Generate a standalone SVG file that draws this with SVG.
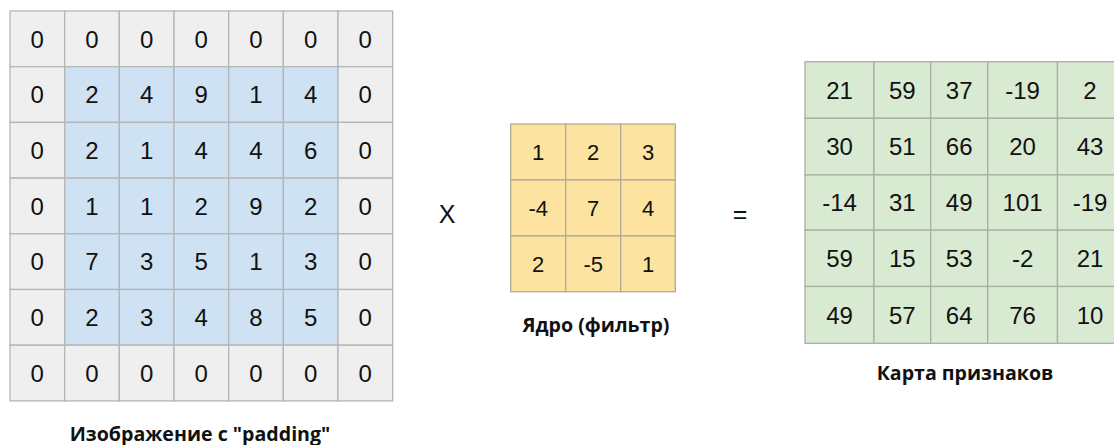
<svg xmlns="http://www.w3.org/2000/svg" width="1114" height="445" viewBox="0 0 1114 445">
<style>
.g{fill:#efefef;stroke:#b5b5b5;stroke-width:1.3}
.b{fill:#cfe2f3;stroke:#b5b5b5;stroke-width:1.3}
.y{fill:#fde3a0;stroke:#b3ab96;stroke-width:1.3}
.m{fill:#d9ead3;stroke:#a6b0a3;stroke-width:1.3}
.n{font-family:"Liberation Sans",Arial,sans-serif;font-size:24px;fill:#111;text-anchor:middle}
.k{font-family:"Liberation Sans",Arial,sans-serif;font-size:22px;fill:#111;text-anchor:middle}
.op{font-family:"Liberation Sans",Arial,sans-serif;font-size:25px;fill:#111;text-anchor:middle}
.lbl{font-family:"Open Sans","Noto Sans",sans-serif;font-weight:bold;font-size:19.6px;fill:#111;text-anchor:middle}
</style>
<rect width="1114" height="445" fill="#ffffff"/>
<g id="input-grid">
<g>
<rect class="g" x="10" y="11" width="54.67" height="55.7"/><rect class="g" x="64.67" y="11" width="54.67" height="55.7"/><rect class="g" x="119.33" y="11" width="54.67" height="55.7"/><rect class="g" x="174" y="11" width="54.67" height="55.7"/><rect class="g" x="228.67" y="11" width="54.67" height="55.7"/><rect class="g" x="283.33" y="11" width="54.67" height="55.7"/><rect class="g" x="338" y="11" width="54.67" height="55.7"/>
<rect class="g" x="10" y="66.7" width="54.67" height="55.7"/><rect class="b" x="64.67" y="66.7" width="54.67" height="55.7"/><rect class="b" x="119.33" y="66.7" width="54.67" height="55.7"/><rect class="b" x="174" y="66.7" width="54.67" height="55.7"/><rect class="b" x="228.67" y="66.7" width="54.67" height="55.7"/><rect class="b" x="283.33" y="66.7" width="54.67" height="55.7"/><rect class="g" x="338" y="66.7" width="54.67" height="55.7"/>
<rect class="g" x="10" y="122.4" width="54.67" height="55.7"/><rect class="b" x="64.67" y="122.4" width="54.67" height="55.7"/><rect class="b" x="119.33" y="122.4" width="54.67" height="55.7"/><rect class="b" x="174" y="122.4" width="54.67" height="55.7"/><rect class="b" x="228.67" y="122.4" width="54.67" height="55.7"/><rect class="b" x="283.33" y="122.4" width="54.67" height="55.7"/><rect class="g" x="338" y="122.4" width="54.67" height="55.7"/>
<rect class="g" x="10" y="178.1" width="54.67" height="55.7"/><rect class="b" x="64.67" y="178.1" width="54.67" height="55.7"/><rect class="b" x="119.33" y="178.1" width="54.67" height="55.7"/><rect class="b" x="174" y="178.1" width="54.67" height="55.7"/><rect class="b" x="228.67" y="178.1" width="54.67" height="55.7"/><rect class="b" x="283.33" y="178.1" width="54.67" height="55.7"/><rect class="g" x="338" y="178.1" width="54.67" height="55.7"/>
<rect class="g" x="10" y="233.8" width="54.67" height="55.7"/><rect class="b" x="64.67" y="233.8" width="54.67" height="55.7"/><rect class="b" x="119.33" y="233.8" width="54.67" height="55.7"/><rect class="b" x="174" y="233.8" width="54.67" height="55.7"/><rect class="b" x="228.67" y="233.8" width="54.67" height="55.7"/><rect class="b" x="283.33" y="233.8" width="54.67" height="55.7"/><rect class="g" x="338" y="233.8" width="54.67" height="55.7"/>
<rect class="g" x="10" y="289.5" width="54.67" height="55.7"/><rect class="b" x="64.67" y="289.5" width="54.67" height="55.7"/><rect class="b" x="119.33" y="289.5" width="54.67" height="55.7"/><rect class="b" x="174" y="289.5" width="54.67" height="55.7"/><rect class="b" x="228.67" y="289.5" width="54.67" height="55.7"/><rect class="b" x="283.33" y="289.5" width="54.67" height="55.7"/><rect class="g" x="338" y="289.5" width="54.67" height="55.7"/>
<rect class="g" x="10" y="345.2" width="54.67" height="55.7"/><rect class="g" x="64.67" y="345.2" width="54.67" height="55.7"/><rect class="g" x="119.33" y="345.2" width="54.67" height="55.7"/><rect class="g" x="174" y="345.2" width="54.67" height="55.7"/><rect class="g" x="228.67" y="345.2" width="54.67" height="55.7"/><rect class="g" x="283.33" y="345.2" width="54.67" height="55.7"/><rect class="g" x="338" y="345.2" width="54.67" height="55.7"/>
</g>
<g>
<text class="n" x="37.3" y="47.5">0</text><text class="n" x="92" y="47.5">0</text><text class="n" x="146.7" y="47.5">0</text><text class="n" x="201.3" y="47.5">0</text><text class="n" x="256" y="47.5">0</text><text class="n" x="310.7" y="47.5">0</text><text class="n" x="365.3" y="47.5">0</text>
<text class="n" x="37.3" y="103.2">0</text><text class="n" x="92" y="103.2">2</text><text class="n" x="146.7" y="103.2">4</text><text class="n" x="201.3" y="103.2">9</text><text class="n" x="256" y="103.2">1</text><text class="n" x="310.7" y="103.2">4</text><text class="n" x="365.3" y="103.2">0</text>
<text class="n" x="37.3" y="158.9">0</text><text class="n" x="92" y="158.9">2</text><text class="n" x="146.7" y="158.9">1</text><text class="n" x="201.3" y="158.9">4</text><text class="n" x="256" y="158.9">4</text><text class="n" x="310.7" y="158.9">6</text><text class="n" x="365.3" y="158.9">0</text>
<text class="n" x="37.3" y="214.6">0</text><text class="n" x="92" y="214.6">1</text><text class="n" x="146.7" y="214.6">1</text><text class="n" x="201.3" y="214.6">2</text><text class="n" x="256" y="214.6">9</text><text class="n" x="310.7" y="214.6">2</text><text class="n" x="365.3" y="214.6">0</text>
<text class="n" x="37.3" y="270.3">0</text><text class="n" x="92" y="270.3">7</text><text class="n" x="146.7" y="270.3">3</text><text class="n" x="201.3" y="270.3">5</text><text class="n" x="256" y="270.3">1</text><text class="n" x="310.7" y="270.3">3</text><text class="n" x="365.3" y="270.3">0</text>
<text class="n" x="37.3" y="326">0</text><text class="n" x="92" y="326">2</text><text class="n" x="146.7" y="326">3</text><text class="n" x="201.3" y="326">4</text><text class="n" x="256" y="326">8</text><text class="n" x="310.7" y="326">5</text><text class="n" x="365.3" y="326">0</text>
<text class="n" x="37.3" y="381.7">0</text><text class="n" x="92" y="381.7">0</text><text class="n" x="146.7" y="381.7">0</text><text class="n" x="201.3" y="381.7">0</text><text class="n" x="256" y="381.7">0</text><text class="n" x="310.7" y="381.7">0</text><text class="n" x="365.3" y="381.7">0</text>
</g>
</g>
<g id="label-input"><text class="lbl" x="200" y="441">Изображение с "padding"</text></g>
<g id="op-multiply"><text class="op" x="447" y="223">X</text></g>
<g id="kernel">
<rect class="y" x="510.7" y="124" width="55" height="56"/><rect class="y" x="565.7" y="124" width="55" height="56"/><rect class="y" x="620.7" y="124" width="54.6" height="56"/>
<rect class="y" x="510.7" y="180" width="55" height="56"/><rect class="y" x="565.7" y="180" width="55" height="56"/><rect class="y" x="620.7" y="180" width="54.6" height="56"/>
<rect class="y" x="510.7" y="236" width="55" height="55.7"/><rect class="y" x="565.7" y="236" width="55" height="55.7"/><rect class="y" x="620.7" y="236" width="54.6" height="55.7"/>
<text class="k" x="538.2" y="160">1</text><text class="k" x="593.2" y="160">2</text><text class="k" x="648" y="160">3</text>
<text class="k" x="538.2" y="216">-4</text><text class="k" x="593.2" y="216">7</text><text class="k" x="648" y="216">4</text>
<text class="k" x="538.2" y="271.7">2</text><text class="k" x="593.2" y="271.7">-5</text><text class="k" x="648" y="271.7">1</text>
</g>
<g id="label-kernel"><text class="lbl" x="596" y="331.5">Ядро (фильтр)</text></g>
<g id="op-equals"><text class="op" x="740" y="223">=</text></g>
<g id="feature-map">
<rect class="m" x="805" y="61.7" width="69" height="56.6"/><rect class="m" x="874" y="61.7" width="56.7" height="56.6"/><rect class="m" x="930.7" y="61.7" width="57" height="56.6"/><rect class="m" x="987.7" y="61.7" width="69.8" height="56.6"/><rect class="m" x="1057.5" y="61.7" width="70" height="56.6"/>
<rect class="m" x="805" y="118.3" width="69" height="56.6"/><rect class="m" x="874" y="118.3" width="56.7" height="56.6"/><rect class="m" x="930.7" y="118.3" width="57" height="56.6"/><rect class="m" x="987.7" y="118.3" width="69.8" height="56.6"/><rect class="m" x="1057.5" y="118.3" width="70" height="56.6"/>
<rect class="m" x="805" y="174.9" width="69" height="55.3"/><rect class="m" x="874" y="174.9" width="56.7" height="55.3"/><rect class="m" x="930.7" y="174.9" width="57" height="55.3"/><rect class="m" x="987.7" y="174.9" width="69.8" height="55.3"/><rect class="m" x="1057.5" y="174.9" width="70" height="55.3"/>
<rect class="m" x="805" y="230.2" width="69" height="56.3"/><rect class="m" x="874" y="230.2" width="56.7" height="56.3"/><rect class="m" x="930.7" y="230.2" width="57" height="56.3"/><rect class="m" x="987.7" y="230.2" width="69.8" height="56.3"/><rect class="m" x="1057.5" y="230.2" width="70" height="56.3"/>
<rect class="m" x="805" y="286.5" width="69" height="56.8"/><rect class="m" x="874" y="286.5" width="56.7" height="56.8"/><rect class="m" x="930.7" y="286.5" width="57" height="56.8"/><rect class="m" x="987.7" y="286.5" width="69.8" height="56.8"/><rect class="m" x="1057.5" y="286.5" width="70" height="56.8"/>
<text class="n" x="839.5" y="98.6">21</text><text class="n" x="902.3" y="98.6">59</text><text class="n" x="959.2" y="98.6">37</text><text class="n" x="1022.6" y="98.6">-19</text><text class="n" x="1090" y="98.6">2</text>
<text class="n" x="839.5" y="155.2">30</text><text class="n" x="902.3" y="155.2">51</text><text class="n" x="959.2" y="155.2">66</text><text class="n" x="1022.6" y="155.2">20</text><text class="n" x="1090" y="155.2">43</text>
<text class="n" x="839.5" y="211.2">-14</text><text class="n" x="902.3" y="211.2">31</text><text class="n" x="959.2" y="211.2">49</text><text class="n" x="1022.6" y="211.2">101</text><text class="n" x="1090" y="211.2">-19</text>
<text class="n" x="839.5" y="267">59</text><text class="n" x="902.3" y="267">15</text><text class="n" x="959.2" y="267">53</text><text class="n" x="1022.6" y="267">-2</text><text class="n" x="1090" y="267">21</text>
<text class="n" x="839.5" y="323.5">49</text><text class="n" x="902.3" y="323.5">57</text><text class="n" x="959.2" y="323.5">64</text><text class="n" x="1022.6" y="323.5">76</text><text class="n" x="1090" y="323.5">10</text>
</g>
<g id="label-feature-map"><text class="lbl" x="965" y="380">Карта признаков</text></g>
<g id="connectors"/>
</svg>
